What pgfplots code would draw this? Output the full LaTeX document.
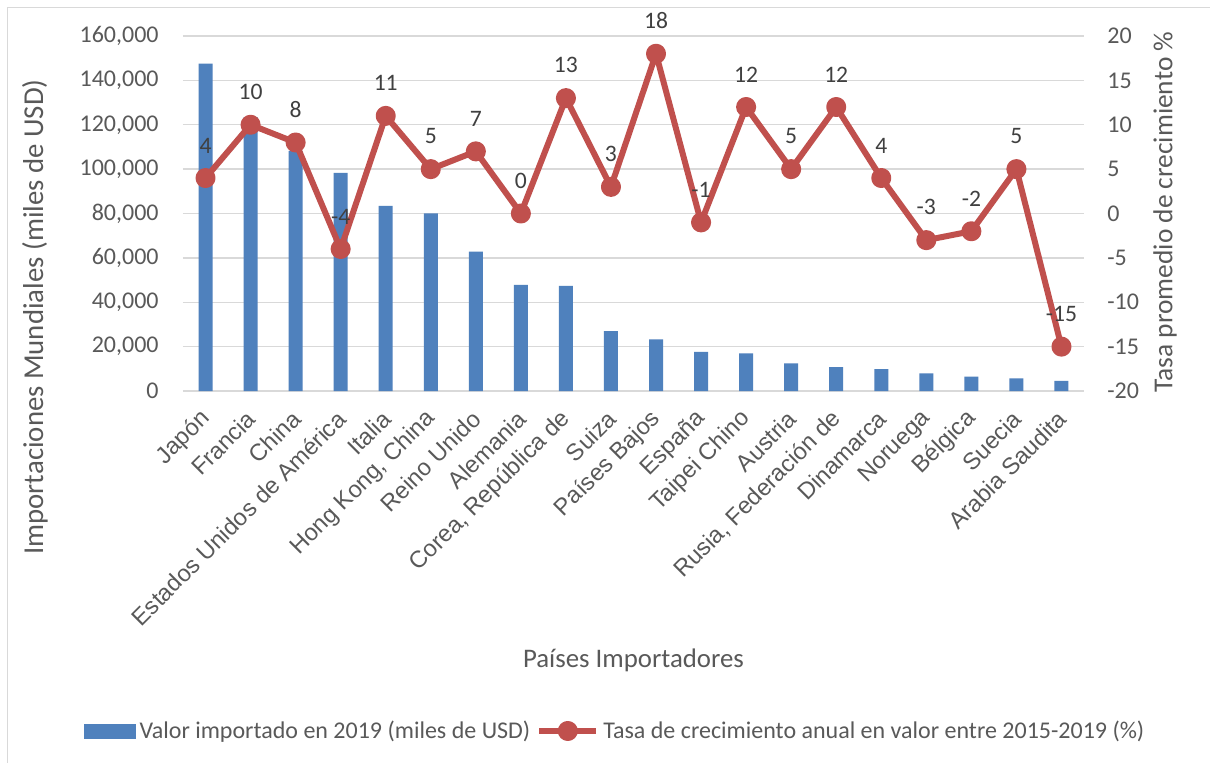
\documentclass[border=0pt]{standalone}
\usepackage{fontspec}
\setmainfont{Carlito}
\newfontfamily\arialfont{Liberation Sans}
\usepackage{pgfplots}
\usepackage{pgfplotstable}
\pgfplotsset{compat=1.18}

\definecolor{barblue}{HTML}{4F81BD}
\definecolor{linered}{HTML}{C0504D}
\definecolor{gridgray}{HTML}{D9D9D9}
\definecolor{ticktext}{HTML}{595959}
\definecolor{labeltext}{HTML}{404040}

\newcommand\smallfont{\fontsize{12pt}{14pt}\selectfont}
\newcommand\datafont{\fontsize{11.8pt}{14pt}\selectfont}
\newcommand\catfont{\arialfont\fontsize{11.8pt}{14pt}\selectfont}
\newcommand\titlefont{\fontsize{13.4pt}{15pt}\selectfont}

% short line with a centred dot, used as legend sample for the growth series
\pgfplotsset{growth legend/.style={legend image code/.code={%
  \draw[mark repeat=2, mark phase=2, ##1] plot coordinates {(0pt,0pt) (14.25pt,0pt) (28.5pt,0pt)};}}}

% idx, import value 2019 (thousand USD), average annual growth 2015-2019 (%)
\pgfplotstableread{
idx value rate
0  147500   4
1  123400  10
2  108200   8
3   98300  -4
4   83400  11
5   80100   5
6   62800   7
7   47800   0
8   47400  13
9   27000   3
10  23300  18
11  17600  -1
12  17000  12
13  12500   5
14  10800  12
15   9900   4
16   8000  -3
17   6500  -2
18   5700   5
19   4600 -15
}\datatable

\begin{document}
\begin{tikzpicture}
\fill[white] (-91.5pt,-185.5pt) rectangle (513.5pt,195.5pt);
\useasboundingbox (-91.5pt,-185.5pt) rectangle (513.5pt,195.5pt);
\draw[gridgray, line width=0.75pt] (-87.75pt,-186pt) -- (-87.75pt,191.75pt) -- (514pt,191.75pt);

% left axis: imported value (bars)
\begin{axis}[
  at={(0,0)}, anchor=south west,
  scale only axis, width=450.5pt, height=177.5pt,
  xmin=-0.5, xmax=19.5,
  ymin=0, ymax=160000,
  ytick={0,20000,...,160000},
  xtick={0,...,19},
  xticklabels={Japón, Francia, China, Estados Unidos de América, Italia,
    {Hong Kong, China}, Reino Unido, Alemania, {Corea, República de}, Suiza,
    Países Bajos, España, Taipei Chino, Austria, {Rusia, Federación de},
    Dinamarca, Noruega, Bélgica, Suecia, Arabia Saudita},
  axis line style={draw=none},
  major tick length=0pt,
  ymajorgrids, grid style={gridgray, line width=0.7pt},
  scaled y ticks=false,
  /pgf/number format/.cd, fixed, precision=0, 1000 sep={,}, assume math mode=true, /pgfplots/.cd,
  yticklabel style={font=\smallfont, text=ticktext, anchor=east, inner sep=0pt, xshift=-12pt},
  xticklabel style={font=\catfont, text=ticktext, inner sep=0pt,
    xshift=0.5pt, yshift=-12pt, rotate=45, anchor=east},
  xlabel={Países Importadores},
  xlabel style={font=\titlefont, text=ticktext, at={(axis description cs:0.5,-0.7577)}, anchor=center},
  ylabel={Importaciones Mundiales (miles de USD)},
  ylabel style={font=\fontsize{14.4pt}{16pt}\selectfont, text=ticktext, at={(axis description cs:-0.1643,0.2085)}, anchor=center, rotate=0},
]
\addplot[ybar, bar width=7pt, bar shift=0pt, fill=barblue, draw=none]
  table[x=idx, y=value] {\datatable};
\end{axis}

% right axis: growth rate (line)
\begin{axis}[
  at={(0,0)}, anchor=south west,
  scale only axis, width=450.5pt, height=177.5pt,
  xmin=-0.5, xmax=19.5,
  ymin=-20, ymax=20,
  ytick={-20,-15,...,20},
  axis x line=none,
  axis y line*=right,
  axis line style={draw=none},
  major tick length=0pt,
  /pgf/number format/.cd, fixed, precision=0, assume math mode=true, /pgfplots/.cd,
  yticklabel style={font=\smallfont, text=ticktext, anchor=west, inner sep=0pt, xshift=11.5pt},
  ylabel={Tasa promedio de crecimiento \%},
  ylabel style={font=\fontsize{13.7pt}{15pt}\selectfont, text=ticktext, at={(axis description cs:1.0899,0.504)}, anchor=center, rotate=0},
  legend style={at={(axis description cs:0.4806,-0.9577)}, anchor=center, draw=none,
    font=\smallfont, text=ticktext, legend columns=-1,
    /tikz/every even column/.append style={column sep=1pt}},
]
\addlegendimage{legend image code/.code={\fill[barblue] (0pt,-3.5pt) rectangle (25.5pt,3.5pt);}}
\addlegendentry{Valor importado en 2019 (miles de USD)}
\addplot[color=linered, line width=3pt, line join=round,
  mark=*, mark size=3.5pt, mark options={draw=none, fill=linered},
  nodes near coords, nodes near coords align={south},
  every node near coord/.append style={font=\datafont, text=labeltext, inner sep=0pt, yshift=11pt},
  growth legend]
  table[x=idx, y=rate] {\datatable};
\addlegendentry{Tasa de crecimiento anual en valor entre 2015-2019 (\%)}
\end{axis}
\end{tikzpicture}
\end{document}
